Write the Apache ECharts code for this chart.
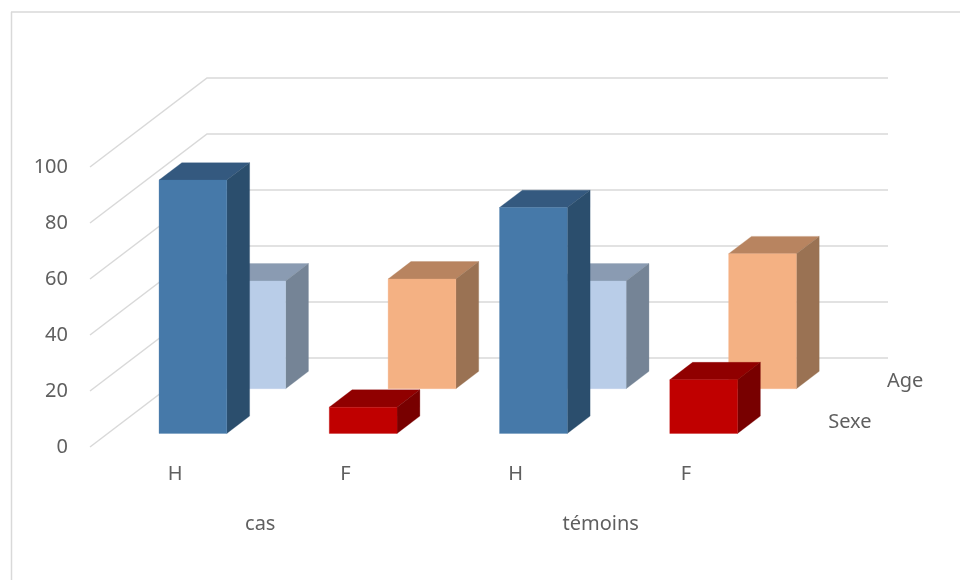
<!DOCTYPE html>
<html>
<head>
<meta charset="utf-8">
<style>html,body{margin:0;padding:0;background:#fff}#chart{width:960px;height:580px}</style>
<script src="https://cdn.jsdelivr.net/npm/echarts@6/dist/echarts.min.js"></script>
</head>
<body>
<div id="chart"></div>
<script>
// Chart data
const sexCategories = ['H', 'F', 'H', 'F'];
const groupCategories = ['cas', 'témoins'];
const sexeValues = [90.5, 9.4, 80.7, 19.2];
const ageValues = [38.5, 39.2, 38.5, 48.2];
const tickValues = [0, 20, 40, 60, 80, 100];
const rowNames = ['Sexe', 'Age'];

// Face colours per sex (H, F): [front, top, side]
const sexeColors = [['#4679A9', '#34597F', '#2B4E6D'], ['#C00000', '#900000', '#780000']];
const ageColors = [['#B9CDE8', '#8A9BB2', '#758496'], ['#F4B183', '#B88460', '#9A7253']];

// Oblique projection of the depth axis, and where each row sits along it
const DEPTH_X = 117;
const DEPTH_Y = -89;
const BAR_WIDTH = 0.398;
const BAR_DEPTH = 0.195;
const ROW_NEAR = [0.152, 0.655];
const ROW_NAME_NUDGE = [-2, 1];
const FONT = { fontFamily: 'Noto Sans', fontSize: 20, color: '#5F5F5F' };
const GRID_LINE = '#D9D9D9';

function project(pt, depth) {
  return [pt[0] + depth * DEPTH_X, pt[1] + depth * DEPTH_Y];
}

// Back-wall gridline with its diagonal running along the side wall
function renderGridLine(params, api) {
  const cs = params.coordSys;
  const y = api.coord([0, api.value(1)])[1];
  const front = [cs.x, y];
  const back = project(front, 1);
  const end = project([cs.x + cs.width, y], 1);
  return {
    type: 'polyline',
    shape: { points: [front, back, end] },
    style: { stroke: GRID_LINE, lineWidth: 1.5, fill: null }
  };
}

// A cuboid bar: top and side faces first, front face over them
function bar3d(rowNear, palette) {
  return function (params, api) {
    const idx = api.value(0);
    const colors = palette[idx % 2];
    const half = api.size([1, 0])[0] * BAR_WIDTH / 2;
    const base = api.coord([idx, 0]);
    const top = api.coord([idx, api.value(1)]);
    const near = rowNear;
    const far = rowNear + BAR_DEPTH;
    const bl = [base[0] - half, base[1]];
    const br = [base[0] + half, base[1]];
    const tl = [base[0] - half, top[1]];
    const tr = [base[0] + half, top[1]];
    const poly = (pts, fill) => ({
      type: 'polygon',
      shape: { points: pts },
      style: { fill: fill, stroke: fill, lineWidth: 0.3 }
    });
    return {
      type: 'group',
      children: [
        poly([project(tl, near), project(tr, near), project(tr, far), project(tl, far)], colors[1]),
        poly([project(br, near), project(tr, near), project(tr, far), project(br, far)], colors[2]),
        poly([project(bl, near), project(br, near), project(tr, near), project(tl, near)], colors[0])
      ]
    };
  };
}

// Row names for the depth axis, set just past the right end of the floor
function renderRowName(params, api) {
  const cs = params.coordSys;
  const row = params.dataIndex;
  const mid = ROW_NEAR[row] + BAR_DEPTH / 2;
  const p = project([cs.x + cs.width, api.coord([0, 0])[1]], mid);
  return {
    type: 'text',
    style: {
      x: p[0] + 28,
      y: p[1] + ROW_NAME_NUDGE[row],
      text: rowNames[row],
      align: 'left',
      verticalAlign: 'middle',
      fontFamily: FONT.fontFamily,
      fontSize: FONT.fontSize,
      fill: FONT.color
    }
  };
}

const toPoints = values => values.map((v, i) => [i, v]);

const chart = echarts.init(document.getElementById('chart'), null, { renderer: 'canvas' });
chart.setOption({
  animation: false,
  backgroundColor: '#FFFFFF',
  graphic: [
    { type: 'line', shape: { x1: 11.5, y1: 12, x2: 11.5, y2: 580 }, style: { stroke: GRID_LINE, lineWidth: 1.5 } },
    { type: 'line', shape: { x1: 11, y1: 12, x2: 960, y2: 12 }, style: { stroke: GRID_LINE, lineWidth: 1.5 } }
  ],
  grid: { left: 90, right: 189, top: 167, bottom: 133, containLabel: false },
  xAxis: [
    {
      type: 'category',
      data: sexCategories,
      position: 'bottom',
      axisLine: { show: false },
      axisTick: { show: false },
      axisLabel: Object.assign({ margin: 17, interval: 0 }, FONT)
    },
    {
      type: 'category',
      data: groupCategories,
      position: 'bottom',
      offset: 50,
      axisLine: { show: false },
      axisTick: { show: false },
      axisLabel: Object.assign({ margin: 17, interval: 0 }, FONT)
    }
  ],
  yAxis: {
    type: 'value',
    min: 0,
    max: 100,
    interval: 20,
    splitLine: { show: false },
    axisLine: { show: false },
    axisTick: { show: false },
    axisLabel: Object.assign({ margin: 22, padding: [0, 0, 4, 0] }, FONT)
  },
  series: [
    {
      type: 'custom',
      name: 'grille',
      renderItem: renderGridLine,
      clip: false,
      silent: true,
      encode: { x: 0, y: 1 },
      data: tickValues.map(v => [0, v])
    },
    {
      type: 'custom',
      name: rowNames[1],
      renderItem: bar3d(ROW_NEAR[1], ageColors),
      clip: false,
      encode: { x: 0, y: 1 },
      data: toPoints(ageValues)
    },
    {
      type: 'custom',
      name: rowNames[0],
      renderItem: bar3d(ROW_NEAR[0], sexeColors),
      clip: false,
      encode: { x: 0, y: 1 },
      data: toPoints(sexeValues)
    },
    {
      type: 'custom',
      name: 'rangées',
      renderItem: renderRowName,
      clip: false,
      silent: true,
      encode: { x: 0, y: 1 },
      data: rowNames.map(() => [0, 0])
    }
  ]
});
</script>
</body>
</html>
